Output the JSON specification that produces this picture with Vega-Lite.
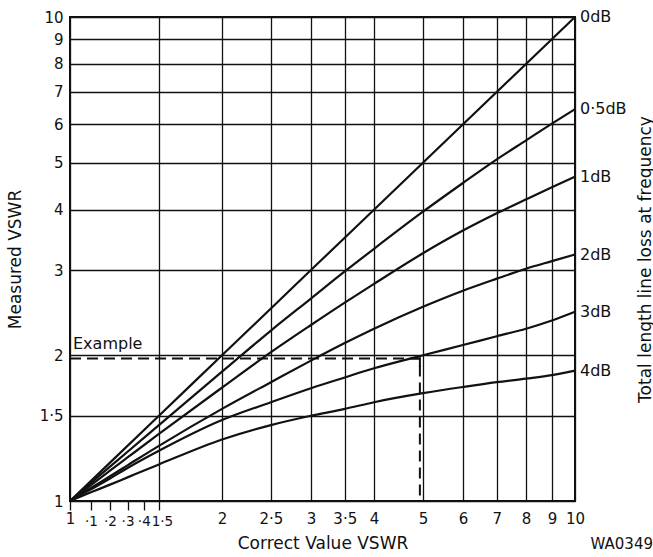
{
  "$schema": "https://vega.github.io/schema/vega-lite/v6.json",
  "width": 505,
  "height": 484,
  "autosize": "none",
  "padding": {"left": 70, "top": 17, "right": 78, "bottom": 56},
  "background": "white",
  "config": {
    "view": {"stroke": "#111", "strokeWidth": 2},
    "font": "DejaVu Sans"
  },
  "title": {
    "text": "WA0349",
    "orient": "bottom",
    "anchor": "end",
    "frame": "bounds",
    "offset": -15,
    "fontSize": 15,
    "fontWeight": "normal",
    "font": "DejaVu Sans",
    "color": "#111"
  },
  "datasets": {
    "curves": [
      {"loss": "0dB", "x": 1, "y": 1},
      {"loss": "0dB", "x": 1.5, "y": 1.5},
      {"loss": "0dB", "x": 2, "y": 2},
      {"loss": "0dB", "x": 3, "y": 3},
      {"loss": "0dB", "x": 5, "y": 5},
      {"loss": "0dB", "x": 10, "y": 10},
      {"loss": "0·5dB", "x": 1, "y": 1},
      {"loss": "0·5dB", "x": 1.1, "y": 1.09},
      {"loss": "0·5dB", "x": 1.2, "y": 1.178},
      {"loss": "0·5dB", "x": 1.3, "y": 1.264},
      {"loss": "0·5dB", "x": 1.5, "y": 1.435},
      {"loss": "0·5dB", "x": 2, "y": 1.85},
      {"loss": "0·5dB", "x": 2.5, "y": 2.25},
      {"loss": "0·5dB", "x": 3, "y": 2.62},
      {"loss": "0·5dB", "x": 3.5, "y": 2.98},
      {"loss": "0·5dB", "x": 4, "y": 3.32},
      {"loss": "0·5dB", "x": 5, "y": 3.96},
      {"loss": "0·5dB", "x": 6, "y": 4.54},
      {"loss": "0·5dB", "x": 7, "y": 5.08},
      {"loss": "0·5dB", "x": 8, "y": 5.56},
      {"loss": "0·5dB", "x": 9, "y": 6.02},
      {"loss": "0·5dB", "x": 10, "y": 6.45},
      {"loss": "1dB", "x": 1, "y": 1},
      {"loss": "1dB", "x": 1.1, "y": 1.078},
      {"loss": "1dB", "x": 1.2, "y": 1.155},
      {"loss": "1dB", "x": 1.3, "y": 1.23},
      {"loss": "1dB", "x": 1.5, "y": 1.376},
      {"loss": "1dB", "x": 2, "y": 1.715},
      {"loss": "1dB", "x": 2.5, "y": 2.03},
      {"loss": "1dB", "x": 3, "y": 2.31},
      {"loss": "1dB", "x": 3.5, "y": 2.57},
      {"loss": "1dB", "x": 4, "y": 2.81},
      {"loss": "1dB", "x": 5, "y": 3.25},
      {"loss": "1dB", "x": 6, "y": 3.62},
      {"loss": "1dB", "x": 7, "y": 3.93},
      {"loss": "1dB", "x": 8, "y": 4.2},
      {"loss": "1dB", "x": 9, "y": 4.45},
      {"loss": "1dB", "x": 10, "y": 4.68},
      {"loss": "2dB", "x": 1, "y": 1},
      {"loss": "2dB", "x": 1.1, "y": 1.064},
      {"loss": "2dB", "x": 1.2, "y": 1.125},
      {"loss": "2dB", "x": 1.3, "y": 1.185},
      {"loss": "2dB", "x": 1.5, "y": 1.3},
      {"loss": "2dB", "x": 2, "y": 1.55},
      {"loss": "2dB", "x": 2.5, "y": 1.76},
      {"loss": "2dB", "x": 3, "y": 1.95},
      {"loss": "2dB", "x": 3.5, "y": 2.12},
      {"loss": "2dB", "x": 4, "y": 2.27},
      {"loss": "2dB", "x": 5, "y": 2.52},
      {"loss": "2dB", "x": 6, "y": 2.72},
      {"loss": "2dB", "x": 7, "y": 2.88},
      {"loss": "2dB", "x": 8, "y": 3.02},
      {"loss": "2dB", "x": 9, "y": 3.13},
      {"loss": "2dB", "x": 10, "y": 3.23},
      {"loss": "3dB", "x": 1, "y": 1},
      {"loss": "3dB", "x": 1.1, "y": 1.057},
      {"loss": "3dB", "x": 1.2, "y": 1.113},
      {"loss": "3dB", "x": 1.3, "y": 1.17},
      {"loss": "3dB", "x": 1.5, "y": 1.27},
      {"loss": "3dB", "x": 2, "y": 1.47},
      {"loss": "3dB", "x": 2.5, "y": 1.6},
      {"loss": "3dB", "x": 3, "y": 1.71},
      {"loss": "3dB", "x": 3.5, "y": 1.8},
      {"loss": "3dB", "x": 4, "y": 1.88},
      {"loss": "3dB", "x": 5, "y": 2.0},
      {"loss": "3dB", "x": 6, "y": 2.1},
      {"loss": "3dB", "x": 7, "y": 2.19},
      {"loss": "3dB", "x": 8, "y": 2.27},
      {"loss": "3dB", "x": 9, "y": 2.36},
      {"loss": "3dB", "x": 10, "y": 2.46},
      {"loss": "4dB", "x": 1, "y": 1},
      {"loss": "4dB", "x": 1.1, "y": 1.042},
      {"loss": "4dB", "x": 1.2, "y": 1.081},
      {"loss": "4dB", "x": 1.3, "y": 1.119},
      {"loss": "4dB", "x": 1.5, "y": 1.19},
      {"loss": "4dB", "x": 2, "y": 1.34},
      {"loss": "4dB", "x": 2.5, "y": 1.435},
      {"loss": "4dB", "x": 3, "y": 1.5},
      {"loss": "4dB", "x": 3.5, "y": 1.55},
      {"loss": "4dB", "x": 4, "y": 1.6},
      {"loss": "4dB", "x": 5, "y": 1.67},
      {"loss": "4dB", "x": 6, "y": 1.72},
      {"loss": "4dB", "x": 7, "y": 1.76},
      {"loss": "4dB", "x": 8, "y": 1.79},
      {"loss": "4dB", "x": 9, "y": 1.82},
      {"loss": "4dB", "x": 10, "y": 1.86}
    ],
    "example": [
      {"step": 1, "x": 1, "y": 1.97},
      {"step": 2, "x": 4.93, "y": 1.97},
      {"step": 3, "x": 4.93, "y": 1}
    ],
    "exampleLabel": [
      {"x": 1, "y": 1.97, "label": "Example"}
    ],
    "arrow": [
      {"x": 4.93, "y": 1.97}
    ]
  },
  "layer": [
    {
      "data": {"name": "curves"},
      "mark": {"type": "line", "interpolate": "monotone", "color": "#111", "strokeWidth": 2.2},
      "encoding": {
        "x": {
          "field": "x", "type": "quantitative",
          "scale": {"type": "log", "domain": [1, 10], "nice": false, "zero": false},
          "axis": {
            "orient": "bottom",
            "values": [1, 1.1, 1.2, 1.3, 1.4, 1.5, 2, 2.5, 3, 3.5, 4, 5, 6, 7, 8, 9, 10],
            "labelExpr": "datum.value > 1.05 && datum.value < 1.45 ? '·' + format((datum.value - 1) * 10, '.0f') : replace(format(datum.value, '~g'), '.', '·')",
            "title": "Correct Value VSWR",
            "grid": true,
            "gridColor": "#111",
            "gridWidth": 1.3,
            "gridOpacity": {"condition": {"test": "datum.value > 1.05 && datum.value < 1.45", "value": 0}, "value": 1},
            "domain": false,
            "ticks": true,
            "tickColor": "#111",
            "tickSize": 9,
            "tickWidth": 1.3,
            "tickOpacity": {"condition": {"test": "datum.value > 1.55", "value": 0}, "value": 1},
            "labelPadding": {"condition": {"test": "datum.value > 1.05 && datum.value < 1.55", "value": 4}, "value": 1},
            "labelFontSize": {"condition": {"test": "datum.value > 1.05 && datum.value < 1.55", "value": 13.5}, "value": 15},
            "labelOffset": {"condition": {"test": "datum.value > 1.45 && datum.value < 1.55", "value": 3}, "value": 0},
            "labelColor": "#111",
            "labelFont": "DejaVu Sans",
            "labelFlush": false,
            "labelOverlap": false,
            "labelBound": false,
            "titleFontSize": 17,
            "titleFontWeight": "normal",
            "titleFont": "DejaVu Sans",
            "titleColor": "#111",
            "titlePadding": 8
          }
        },
        "y": {
          "field": "y", "type": "quantitative",
          "scale": {"type": "log", "domain": [1, 10], "nice": false, "zero": false},
          "axis": {
            "orient": "left",
            "values": [1, 1.5, 2, 3, 4, 5, 6, 7, 8, 9, 10],
            "labelExpr": "replace(format(datum.value, '~g'), '.', '·')",
            "title": "Measured VSWR",
            "grid": true,
            "gridColor": "#111",
            "gridWidth": 1.3,
            "domain": false,
            "ticks": false,
            "labelPadding": 7,
            "labelFontSize": 15,
            "labelColor": "#111",
            "labelFont": "DejaVu Sans",
            "labelFlush": false,
            "labelOverlap": false,
            "labelBound": false,
            "titleFontSize": 17,
            "titleFontWeight": "normal",
            "titleFont": "DejaVu Sans",
            "titleColor": "#111",
            "titlePadding": 15
          }
        },
        "detail": {"field": "loss", "type": "nominal"}
      }
    },
    {
      "data": {"name": "curves"},
      "transform": [{"filter": "datum.x == 10"}],
      "mark": {"type": "text", "align": "left", "baseline": "middle", "dx": 5, "fontSize": 16, "font": "DejaVu Sans", "color": "#111"},
      "encoding": {
        "x": {"field": "x", "type": "quantitative", "scale": {"type": "log", "domain": [1, 10], "nice": false, "zero": false}, "axis": null},
        "y": {
          "field": "y", "type": "quantitative",
          "scale": {"type": "log", "domain": [1, 10], "nice": false, "zero": false},
          "axis": {
            "orient": "right",
            "labels": false,
            "ticks": false,
            "domain": false,
            "grid": false,
            "title": "Total length line loss at frequency",
            "titleAngle": 270,
            "titleBaseline": "middle",
            "titlePadding": 70,
            "titleFontSize": 17,
            "titleFontWeight": "normal",
            "titleFont": "DejaVu Sans",
            "titleColor": "#111"
          }
        },
        "text": {"field": "loss", "type": "nominal"}
      }
    },
    {
      "data": {"name": "example"},
      "mark": {"type": "line", "color": "#111", "strokeWidth": 2, "strokeDash": [11, 6]},
      "encoding": {
        "x": {"field": "x", "type": "quantitative", "scale": {"type": "log", "domain": [1, 10], "nice": false, "zero": false}, "axis": null},
        "y": {"field": "y", "type": "quantitative", "scale": {"type": "log", "domain": [1, 10], "nice": false, "zero": false}, "axis": null},
        "order": {"field": "step", "type": "quantitative"}
      }
    },
    {
      "data": {"name": "arrow"},
      "mark": {"type": "point", "shape": "M -1 1 L 0 0 L 1 1", "filled": false, "stroke": "#111", "strokeWidth": 2, "size": 144, "angle": 45, "opacity": 1},
      "encoding": {
        "x": {"field": "x", "type": "quantitative", "scale": {"type": "log", "domain": [1, 10], "nice": false, "zero": false}, "axis": null},
        "y": {"field": "y", "type": "quantitative", "scale": {"type": "log", "domain": [1, 10], "nice": false, "zero": false}, "axis": null}
      }
    },
    {
      "data": {"name": "exampleLabel"},
      "mark": {"type": "text", "align": "left", "baseline": "alphabetic", "dx": 3, "dy": -9, "fontSize": 16, "font": "DejaVu Sans", "color": "#111"},
      "encoding": {
        "x": {"field": "x", "type": "quantitative", "scale": {"type": "log", "domain": [1, 10], "nice": false, "zero": false}, "axis": null},
        "y": {"field": "y", "type": "quantitative", "scale": {"type": "log", "domain": [1, 10], "nice": false, "zero": false}, "axis": null},
        "text": {"field": "label", "type": "nominal"}
      }
    }
  ],
  "resolve": {"axis": {"x": "independent", "y": "independent"}}
}
